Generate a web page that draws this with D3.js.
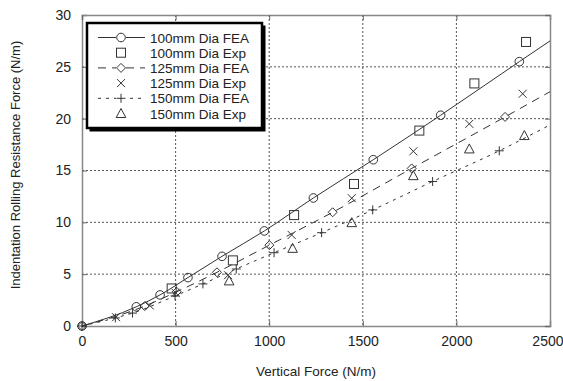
<!DOCTYPE html>
<html>
<head>
<meta charset="utf-8">
<script src="https://cdn.jsdelivr.net/npm/d3@7"></script>
<style>
  body { margin: 0; background: #fff; }
  svg { font-family: "Liberation Sans", Arial, sans-serif; }
</style>
</head>
<body>
<svg id="chart" width="563" height="381"></svg>
<script>
// data
const xTicks = [0, 500, 1000, 1500, 2000, 2500];
const yTicks = [0, 5, 10, 15, 20, 25, 30];

const fea100 = [[0, 0], [290, 1.85], [417, 3.0], [566, 4.67], [748, 6.72], [974, 9.17], [1236, 12.35], [1556, 16.04], [1916, 20.33], [2336, 25.5], [2500, 27.5]];
const exp100 = [[479, 3.62], [806, 6.33], [1133, 10.7], [1453, 13.7], [1802, 18.85], [2096, 23.4], [2372, 27.4]];
const fea125 = [[0, 0], [335, 1.92], [506, 3.3], [721, 5.18], [1001, 7.8], [1339, 10.97], [1761, 15.2], [2260, 20.17], [2500, 22.6]];
const exp125 = [[182, 0.85], [362, 1.98], [500, 3.2], [780, 4.9], [1120, 8.78], [1441, 12.33], [1770, 16.85], [2069, 19.5], [2354, 22.4]];
const fea150 = [[0, 0], [178, 0.78], [270, 1.25], [497, 2.9], [646, 4.06], [824, 5.5], [1026, 7.07], [1280, 9.0], [1553, 11.2], [1873, 13.94], [2229, 16.9], [2500, 19.4]];
const exp150 = [[786, 4.35], [1125, 7.49], [1441, 9.97], [1770, 14.5], [2069, 17.08], [2363, 18.37]];

const legendNames = ["100mm Dia FEA", "100mm Dia Exp", "125mm Dia FEA", "125mm Dia Exp", "150mm Dia FEA", "150mm Dia Exp"];

const svg = d3.select("#chart");
const margin = { top: 15, right: 13, bottom: 55, left: 82 };
const width = +svg.attr("width") - margin.left - margin.right;
const height = +svg.attr("height") - margin.top - margin.bottom;
const g = svg.append("g").attr("transform", `translate(${margin.left},${margin.top})`);

const x = d3.scaleLinear().domain([0, 2500]).range([0, width]);
const y = d3.scaleLinear().domain([0, 30]).range([height, 0]);

const ink = "#333";

// grid
g.append("g").selectAll("line")
    .data(xTicks.slice(1, -1))
    .enter().append("line")
    .attr("x1", d => x(d)).attr("x2", d => x(d))
    .attr("y1", 0).attr("y2", height)
    .attr("stroke", "#555").attr("stroke-dasharray", "2,2");
g.append("g").selectAll("line")
    .data(yTicks.slice(1, -1))
    .enter().append("line")
    .attr("y1", d => y(d)).attr("y2", d => y(d))
    .attr("x1", 0).attr("x2", width)
    .attr("stroke", "#555").attr("stroke-dasharray", "2,2");

// axes with inner ticks
const xAxis = g.append("g").attr("transform", `translate(0,${height})`)
    .call(d3.axisBottom(x).tickValues(xTicks).tickFormat(d3.format("d")).tickSize(-5).tickPadding(10));
const yAxis = g.append("g")
    .call(d3.axisLeft(y).tickValues(yTicks).tickFormat(d3.format("d")).tickSize(-5).tickPadding(11));
g.append("g").call(d3.axisTop(x).tickValues(xTicks).tickSize(-5).tickFormat(""));
g.append("g").attr("transform", `translate(${width},0)`)
    .call(d3.axisRight(y).tickValues(yTicks).tickSize(-5).tickFormat(""));

g.selectAll(".domain").attr("stroke", "#888").attr("stroke-width", 1.5);
g.selectAll(".tick line").attr("stroke", "#666");
g.selectAll(".tick text").attr("font-size", 14).attr("fill", "#222")
    .attr("font-family", "Liberation Sans, Arial, sans-serif");
// last x label sits at the right edge
xAxis.selectAll(".tick text").filter(d => d === 2500).attr("text-anchor", "end").attr("dx", 13);

svg.append("text")
    .attr("x", margin.left + width / 2).attr("y", 376)
    .attr("text-anchor", "middle").attr("font-size", 13.5).attr("fill", "#222")
    .text("Vertical Force (N/m)");
svg.append("text")
    .attr("transform", "translate(20,165) rotate(-90)")
    .attr("text-anchor", "middle").attr("font-size", 13).attr("fill", "#222")
    .text("Indentation Rolling Resistance Force (N/m)");

// markers
function marker(sel, type) {
    if (type === "circle") {
        sel.append("circle").attr("r", 4.3);
    } else if (type === "square") {
        sel.append("rect").attr("x", -4.5).attr("y", -4.5).attr("width", 9).attr("height", 9);
    } else if (type === "diamond") {
        sel.append("path").attr("d", "M0,-4.5L4.5,0L0,4.5L-4.5,0Z");
    } else if (type === "cross") {
        sel.append("path").attr("d", "M-4,-4L4,4M-4,4L4,-4");
    } else if (type === "plus") {
        sel.append("path").attr("d", "M-4.5,0H4.5M0,-4.5V4.5");
    } else if (type === "triangle") {
        sel.append("path").attr("d", "M0,-5L4.8,4L-4.8,4Z");
    }
    sel.selectAll("*").attr("fill", "none").attr("stroke", ink).attr("stroke-width", 1);
}

const line = d3.line().x(d => x(d[0])).y(d => y(d[1])).curve(d3.curveMonotoneX);

const series = [
    { data: fea100, line: true, dash: null, mark: "circle" },
    { data: exp100, line: false, mark: "square" },
    { data: fea125, line: true, dash: "8,6", mark: "diamond" },
    { data: exp125, line: false, mark: "cross" },
    { data: fea150, line: true, dash: "3,5", mark: "plus" },
    { data: exp150, line: false, mark: "triangle" }
];

series.forEach(s => {
    if (s.line) {
        g.append("path").datum(s.data)
            .attr("d", line)
            .attr("fill", "none").attr("stroke", ink).attr("stroke-width", 1)
            .attr("stroke-dasharray", s.dash);
    }
    // FEA curves run on to the right edge without a marker there
    const pts = s.line ? s.data.slice(0, -1) : s.data;
    g.selectAll(null).data(pts).enter().append("g")
        .attr("transform", d => `translate(${x(d[0])},${y(d[1])})`)
        .each(function () { marker(d3.select(this), s.mark); });
});

// legend
const lg = svg.append("g").attr("transform", "translate(87,23)");
lg.append("rect").attr("x", 2.5).attr("y", 2.5).attr("width", 176).attr("height", 106).attr("fill", "#000");
lg.append("rect").attr("x", 0).attr("y", 0).attr("width", 175).attr("height", 105)
    .attr("fill", "#fff").attr("stroke", "#000").attr("stroke-width", 2.5);

legendNames.forEach((name, i) => {
    const s = series[i];
    const row = lg.append("g").attr("transform", `translate(0,${14.5 + i * 15.2})`);
    if (s.line) {
        row.append("line").attr("x1", 11).attr("x2", 58).attr("y1", 0).attr("y2", 0)
            .attr("stroke", ink).attr("stroke-width", 1).attr("stroke-dasharray", s.dash);
    }
    const m = row.append("g").attr("transform", "translate(34,0)");
    marker(m, s.mark);
    if (s.line) m.insert("rect", ":first-child").attr("x", -5).attr("y", -5).attr("width", 10).attr("height", 10).attr("fill", "#fff");
    row.append("text").attr("x", 63).attr("y", 5)
        .attr("font-size", 13.5).attr("fill", "#222").text(name);
});
</script>
</body>
</html>
